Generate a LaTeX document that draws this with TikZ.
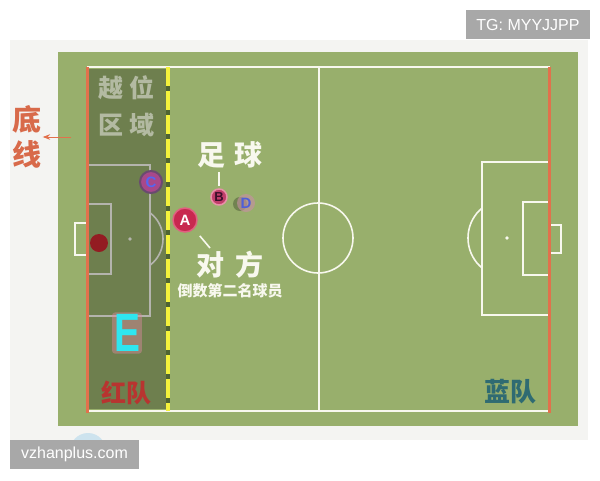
\documentclass[tikz,border=0pt]{standalone}
\usepackage{fontspec}
\setmainfont{Liberation Sans}
\newfontfamily\cjk{Noto Sans CJK SC}
\usetikzlibrary{arrows.meta, positioning, calc}

\definecolor{paper}{HTML}{F4F4F2}
\definecolor{pitch}{HTML}{98AF6C}
\definecolor{chalkwhite}{HTML}{F8F8EE}
\definecolor{orangeline}{HTML}{E2714C}
\definecolor{yellowline}{HTML}{F4F23C}
\definecolor{gapgreen}{HTML}{4F6432}
\definecolor{redtext}{HTML}{D86A4A}
\definecolor{fadedtext}{HTML}{B3BAA2}
\definecolor{redteam}{HTML}{B83430}
\definecolor{blueteam}{HTML}{2F6B72}
\definecolor{ecyan}{HTML}{2EE6F0}
\definecolor{eglow}{HTML}{D98AA0}
\definecolor{afill}{HTML}{C8284F}
\definecolor{aglow}{HTML}{E06080}
\definecolor{bfill}{HTML}{C03E6A}
\definecolor{bglow}{HTML}{E890A8}
\definecolor{bletter}{HTML}{3A0F2A}
\definecolor{cfill}{HTML}{A8488A}
\definecolor{cring}{HTML}{6A4A70}
\definecolor{cletter}{HTML}{5566F2}
\definecolor{dglow}{HTML}{C98FA5}
\definecolor{blueletter}{HTML}{4F5FD8}
\definecolor{keeperred}{HTML}{931C22}
\definecolor{wmgray}{HTML}{A8A8A8}
\definecolor{blob}{HTML}{CDE3EE}

\begin{document}
\begin{tikzpicture}[
			x=1pt, y=-1pt,
			every node/.style={align=center, inner sep=1pt},
			chalk/.style={draw=chalkwhite, line width=2.8pt},
			chalkthin/.style={draw=chalkwhite, line width=1.6pt},
			goalline/.style={draw=orangeline, line width=3pt},
			cnlabel/.style={font=\cjk\bfseries\fontsize{28}{34}\selectfont, text=chalkwhite},
			ball/.style={circle, inner sep=0pt, font=\bfseries\fontsize{15}{15}\selectfont},
			watermark/.style={fill=wmgray, text=white, inner sep=0pt, minimum height=29pt, font=\fontsize{16}{16}\selectfont},
			>=Stealth
			]
			\useasboundingbox (0,0) rectangle (600,480);
			
			% Background and pitch
			\fill[white] (0,0) rectangle (600,480);
			\fill[paper] (10,40) rectangle (588,440);
			\fill[blob] (88,451) circle[radius=18pt];
			\fill[pitch] (58,52) rectangle (578,426);
			
			% Pitch markings
			\draw[chalk] (88,67) rectangle (549,411);
			\draw[chalk] (319,67) -- (319,411);
			\draw[chalkthin] (318,238) circle[radius=35pt];
			\draw[chalk] (88,165) -| (150,316) -- (88,316);
			\draw[chalk] (88,204) -| (111,274) -- (88,274);
			\draw[chalk] (88,223) -| (75,255) -- (88,255);
			\fill[chalkwhite] (130,239) circle[radius=1.8pt];
			\begin{scope}
				\clip (150,150) rectangle (180,330);
				\draw[chalkthin] (130,239) circle[radius=33pt];
			\end{scope}
			\draw[chalk] (549,162) -| (482,315) -- (549,315);
			\draw[chalk] (549,202) -| (523,275) -- (549,275);
			\draw[chalk] (549,225) -| (561,253) -- (549,253);
			\fill[chalkwhite] (507,238) circle[radius=1.8pt];
			\begin{scope}
				\clip (440,150) rectangle (482,330);
				\draw[chalkthin] (507,238) circle[radius=39pt];
			\end{scope}
			
			% Offside zone
			\fill[black, opacity=0.27] (88,69) rectangle (168,409);
			\draw[gapgreen, line width=4pt] (168,67) -- (168,411);
			\draw[yellowline, line width=4pt, dash pattern=on 19pt off 5pt] (168,67) -- (168,411);
			
			% Goal lines
			\draw[goalline] (87,67) -- (87,413);
			\draw[goalline] (549,67) -- (549,413);
			
			% Nodes
			\node[font=\cjk\bfseries\fontsize{29}{35}\selectfont, text=redtext] (dixian) at (27,137) {底\\线};
			\coordinate (baseline) at (71,137);
			\node[font=\cjk\bfseries\fontsize{25}{37}\selectfont, text=fadedtext] (yuewei) at (126,106) {越\hspace{6pt}位\\区\hspace{6pt}域};
			\node[circle, fill=keeperred, minimum size=18pt, inner sep=0pt] (keeper) at (99,243) {};
			\node[ball, minimum size=22pt, fill=cfill, draw=cring, line width=2pt, text=cletter] (playerC) at (151,182) {C};
			\node[ball, minimum size=24pt, fill=afill, draw=aglow, line width=1.5pt, text=white] (playerA) at (185,220) {A};
			\node[ball, minimum size=16pt, fill=bfill, draw=bglow, line width=1.5pt, text=bletter, font=\bfseries\fontsize{13}{13}\selectfont] (ballB) at (219,197) {B};
			\fill[black, opacity=0.25] (240,204) circle[radius=7pt];
			\node[ball, minimum size=18pt, fill=dglow, fill opacity=0.6, text opacity=1, text=blueletter] (playerD) at (246,203) {D};
			\node[cnlabel] (zuqiu) at (230,155) {足\hspace{9pt}球};
			\node[cnlabel] (duifang) at (230,265) {对\hspace{12pt}方};
			\node[below=3pt of duifang, font=\cjk\bfseries\fontsize{15}{15}\selectfont, text=chalkwhite] (daoshu) {倒数第二名球员};
			\coordinate (atick) at (210,248);
			\node[font=\bfseries\fontsize{54}{54}\selectfont, text=ecyan, fill=eglow, fill opacity=0.45, text opacity=1, rounded corners=3pt, inner sep=2pt] (playerE) at (127,333) {\scalebox{0.72}[1]{E}};
			\node[font=\cjk\bfseries\fontsize{25}{25}\selectfont, text=redteam] (hongdui) at (126,393) {红队};
			\node[font=\cjk\bfseries\fontsize{26}{26}\selectfont, text=blueteam] (landui) at (510,392) {蓝队};
			
			% Arrows
			\draw[->, orangeline, line width=1pt] (baseline) -- (dixian);
			\draw[chalkthin, line width=1.5pt, shorten <=2pt, shorten >=2pt] (ballB.north) -- (ballB.north |- zuqiu.south);
			\draw[chalkthin, shorten <=9pt] (playerA.-45) -- (atick);
			
			% Watermarks
			\node[watermark, minimum width=124pt] (tg) at (528,24.5) {TG: MYYJJPP};
			\node[watermark, minimum width=129pt] (site) at (74.5,454.5) {vzhanplus.com};
		\end{tikzpicture}
\end{document}
